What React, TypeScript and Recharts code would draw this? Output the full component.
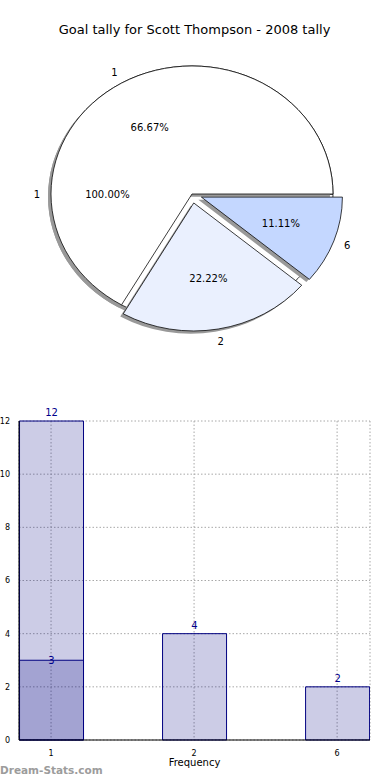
import React from 'react';
import {
  PieChart,
  Pie,
  Cell,
  ComposedChart,
  Bar,
  XAxis,
  YAxis,
  CartesianGrid,
  LabelList,
  Label
} from 'recharts';

// values
const categories = ['1', '2', '6'];
const tallies = [12, 4, 2];
const subCategories = ['1'];
const subTallies = [3];
const yTicks = [0, 2, 4, 6, 8, 10, 12];

const FONT = '"DejaVu Sans", sans-serif';
const SQUASH = 0.908; // pie is drawn as an ellipse
const CX = 192;
const CY = 194;
const R = 141;
const EXPLODE = [0, 10, 10];
const sliceColors = ['#ffffff', '#eaf0fe', '#c4d7ff'];
const SHADOW = '#999999';

const pieData = categories.map((c, i) => ({ name: c, value: tallies[i] }));
const fullData = subCategories.map((c, i) => ({ name: c, value: subTallies[i] }));
const barData = categories.map((c, i) => ({ x: i, label: c, total: tallies[i], sub: subTallies[i] ?? null }));

const total = tallies.reduce((a, b) => a + b, 0);
// mid angle of each slice, counter-clockwise from 3 o'clock
const midAngles = tallies.map((v, i) => {
  const before = tallies.slice(0, i).reduce((a, b) => a + b, 0);
  return ((before + v / 2) / total) * 360;
});

const rad = Math.PI / 180;

// text that undoes the ellipse squash so glyphs stay upright
const Upright = ({ x, y, children }: any) => (
  <text
    x={0}
    y={0}
    transform={`translate(${x},${y}) scale(1,${1 / SQUASH})`}
    textAnchor="middle"
    dominantBaseline="central"
    fill="#000"
    fontSize={10}
    fontFamily={FONT}
  >
    {children}
  </text>
);

const makeLabel = (visible: number) => (p: any) => {
  if (p.index !== visible) return null;
  const a = -p.midAngle * rad;
  const at = (f: number) => [p.cx + p.outerRadius * f * Math.cos(a), p.cy + p.outerRadius * f * Math.sin(a)];
  const [nx, ny] = at(1.1);
  const [px, py] = at(0.6);
  return (
    <g key={`lbl-${visible}-${p.index}`}>
      <Upright x={nx} y={ny}>{p.name}</Upright>
      <Upright x={px} y={py}>{(p.percent * 100).toFixed(2)}%</Upright>
    </g>
  );
};

const PiePart = () => {
  const pies: React.ReactNode[] = [];
  // underlying full pie (the subset) with its shadow
  pies.push(
    <Pie key="fs" data={fullData} dataKey="value" nameKey="name" cx={CX - 3} cy={CY + 3} outerRadius={R}
      startAngle={0} endAngle={360} isAnimationActive={false} label={false} labelLine={false}>
      {fullData.map((_, i) => <Cell key={i} fill={SHADOW} stroke="none" />)}
    </Pie>
  );
  pies.push(
    <Pie key="f" data={fullData} dataKey="value" nameKey="name" cx={CX} cy={CY} outerRadius={R}
      startAngle={0} endAngle={360} isAnimationActive={false} label={makeLabel(0)} labelLine={false}>
      {fullData.map((_, i) => <Cell key={i} fill="#ffffff" stroke="#000" strokeWidth={0.8} />)}
    </Pie>
  );
  // each wedge of the main pie, exploded along its mid angle
  pieData.forEach((_, k) => {
    const dx = EXPLODE[k] * Math.cos(midAngles[k] * rad);
    const dy = -EXPLODE[k] * Math.sin(midAngles[k] * rad);
    pies.push(
      <Pie key={`s${k}`} data={pieData} dataKey="value" nameKey="name" cx={CX + dx - 3} cy={CY + dy + 3} outerRadius={R}
        startAngle={0} endAngle={360} isAnimationActive={false} label={false} labelLine={false}>
        {pieData.map((_, i) => <Cell key={i} fill={i === k ? SHADOW : 'none'} stroke="none" />)}
      </Pie>
    );
    pies.push(
      <Pie key={`w${k}`} data={pieData} dataKey="value" nameKey="name" cx={CX + dx} cy={CY + dy} outerRadius={R}
        startAngle={0} endAngle={360} isAnimationActive={false} label={makeLabel(k)} labelLine={false}>
        {pieData.map((_, i) => (
          <Cell key={i} fill={i === k ? sliceColors[i] : 'none'} stroke={i === k ? '#000' : 'none'} strokeWidth={0.8} />
        ))}
      </Pie>
    );
  });
  return (
    <PieChart width={390} height={390} margin={{ top: 0, right: 0, bottom: 0, left: 0 }}>
      {pies}
    </PieChart>
  );
};

const BarPart = () => (
  <ComposedChart
    width={390}
    height={380}
    data={barData}
    margin={{ top: 21, right: 20, bottom: 0, left: 0 }}
    barSize={64}
    barGap={-64}
  >
    <CartesianGrid stroke="#a8a8a8" strokeDasharray="1.5 2" />
    <XAxis
      dataKey="x"
      type="number"
      domain={[-0.224, 2.23]}
      ticks={[0, 1, 2]}
      tickFormatter={(v: number) => categories[v]}
      tickLine={false}
      tickMargin={4}
      axisLine={{ stroke: '#000' }}
      tick={{ fill: '#000', fontSize: 8, fontFamily: FONT }}
      height={40}
      allowDataOverflow
    >
      <Label value="Frequency" position="insideBottom" offset={14} fill="#000" fontSize={10} fontFamily={FONT} />
    </XAxis>
    <XAxis xAxisId="top" orientation="top" type="number" domain={[-0.224, 2.23]} tick={false} tickLine={false}
      axisLine={{ stroke: '#000' }} height={0} allowDataOverflow />
    <YAxis
      domain={[0, 12]}
      ticks={yTicks}
      width={19}
      tickLine={false}
      tickMargin={3}
      axisLine={{ stroke: '#000' }}
      tick={{ fill: '#000', fontSize: 8, fontFamily: FONT }}
    >
      <Label value="Goal Tally" angle={-90} position="left" offset={19} fill="#000" fontSize={10} fontFamily={FONT} />
    </YAxis>
    <YAxis yAxisId="right" orientation="right" domain={[0, 12]} tick={false} tickLine={false}
      axisLine={{ stroke: '#000' }} width={0} />
    <Bar dataKey="total" fill="#000080" fillOpacity={0.2} stroke="#000080" strokeWidth={1} isAnimationActive={false}>
      <LabelList dataKey="total" position="top" fill="#00008b" fontSize={10} fontFamily={FONT} />
    </Bar>
    <Bar dataKey="sub" fill="#000080" fillOpacity={0.2} stroke="#000080" strokeWidth={1} isAnimationActive={false}>
      <LabelList dataKey="sub" position="top" offset={-4} fill="#00008b" fontSize={10} fontFamily={FONT} />
    </Bar>
  </ComposedChart>
);

export default function App() {
  return (
    <div style={{ position: 'absolute', left: 0, top: 0, width: 390, height: 780, background: '#fff', fontFamily: FONT, overflow: 'hidden' }}>
      <div style={{ position: 'absolute', left: 0, top: 0, width: 390, height: 390, transform: `scaleY(${SQUASH})`, transformOrigin: `${CX}px ${CY}px` }}>
        <PiePart />
      </div>
      <div style={{ position: 'absolute', left: 0, top: 22, width: 389, textAlign: 'center', fontSize: 13, lineHeight: '16px', color: '#000' }}>
        Goal tally for Scott Thompson - 2008 tally
      </div>
      <div style={{ position: 'absolute', left: 0, top: 400 }}>
        <BarPart />
      </div>
      <div style={{ position: 'absolute', left: 0, top: 763, fontSize: 10.5, fontWeight: 'bold', color: '#9c9c9c', lineHeight: '14px' }}>
        Dream-Stats.com
      </div>
    </div>
  );
}
